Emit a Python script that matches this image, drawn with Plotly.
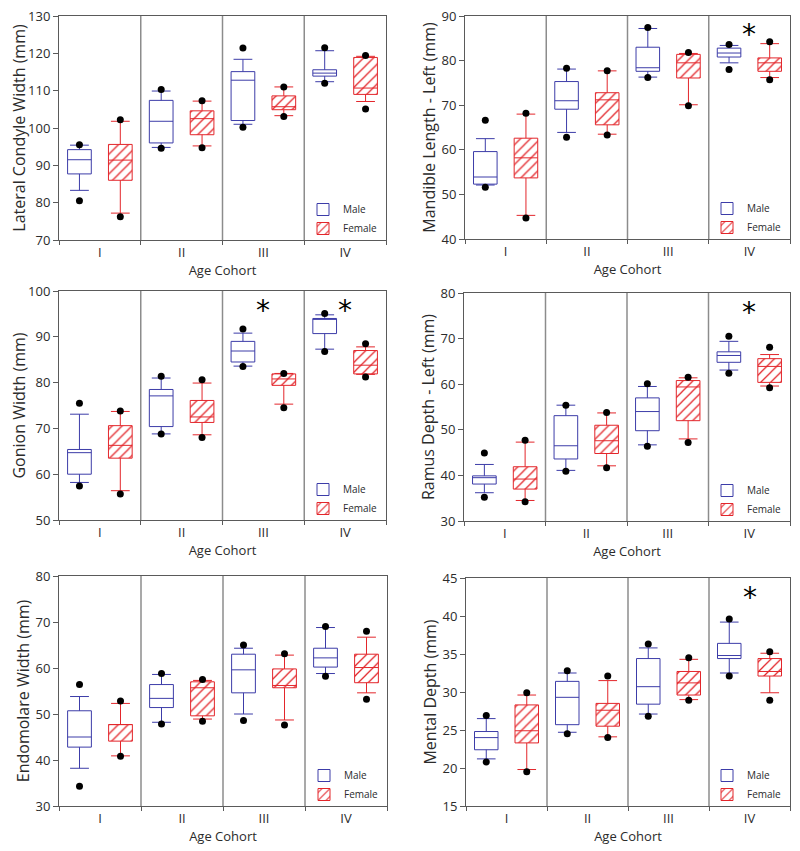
import plotly.graph_objects as go

CATEGORIES = ["I", "II", "III", "IV"]
SEXES = ["Male", "Female"]

# Box stats per cohort: [lower whisker, Q1, median, Q3, upper whisker]; dots: [low point, high point]
LCW_MALE = [[83.3, 87.7, 91.5, 94.2, 95.4], [94.8, 96.0, 101.8, 107.4, 109.9],
            [101.0, 102.0, 112.8, 115.1, 118.4], [112.4, 113.9, 114.7, 115.6, 120.7]]
LCW_MALE_DOTS = [[80.5, 95.5], [94.6, 110.3], [100.2, 121.4], [112.0, 121.5]]
LCW_FEMALE = [[77.2, 86.0, 91.4, 95.6, 101.8], [95.2, 98.2, 102.5, 104.6, 107.2],
              [103.3, 104.9, 105.7, 108.6, 111.0], [107.1, 109.0, 110.7, 118.9, 119.2]]
LCW_FEMALE_DOTS = [[76.2, 102.2], [94.7, 107.3], [103.1, 111.0], [105.1, 119.4]]
LCW_STARS = []

MLL_MALE = [[52.1, 52.3, 53.9, 59.6, 62.5], [63.9, 69.1, 71.0, 75.3, 78.1],
            [76.3, 77.6, 78.4, 83.0, 87.2], [79.5, 80.8, 81.7, 82.8, 83.4]]
MLL_MALE_DOTS = [[51.6, 66.6], [62.8, 78.3], [76.2, 87.4], [78.0, 83.6]]
MLL_FEMALE = [[45.3, 53.7, 58.2, 62.6, 68.0], [63.5, 65.6, 71.2, 72.8, 77.7],
              [70.1, 76.1, 79.5, 81.4, 81.6], [76.2, 77.6, 79.5, 80.6, 83.8]]
MLL_FEMALE_DOTS = [[44.7, 68.2], [63.3, 77.7], [69.9, 81.8], [75.7, 84.2]]
MLL_STARS = ["IV"]

GW_MALE = [[58.2, 60.0, 64.7, 65.4, 73.1], [68.8, 70.4, 77.1, 78.5, 81.0],
           [83.6, 84.5, 86.9, 89.0, 90.8], [87.3, 90.7, 93.8, 94.0, 94.8]]
GW_MALE_DOTS = [[57.4, 75.5], [68.8, 81.4], [83.5, 91.7], [86.8, 95.1]]
GW_FEMALE = [[56.4, 63.5, 66.3, 70.6, 73.7], [68.6, 71.3, 72.5, 76.1, 79.9],
             [75.3, 79.4, 80.8, 81.9, 82.0], [81.8, 81.9, 83.8, 87.0, 87.8]]
GW_FEMALE_DOTS = [[55.7, 73.8], [68.0, 80.6], [74.5, 82.0], [81.2, 88.5]]
GW_STARS = ["III", "IV"]

RDL_MALE = [[36.2, 38.1, 39.5, 39.9, 42.4], [41.1, 43.6, 46.5, 53.1, 55.4],
            [46.7, 49.8, 54.0, 57.0, 59.5], [63.1, 64.8, 66.3, 67.1, 69.4]]
RDL_MALE_DOTS = [[35.2, 44.9], [40.9, 55.4], [46.4, 60.1], [62.4, 70.5]]
RDL_FEMALE = [[34.5, 37.0, 39.2, 41.9, 47.3], [42.1, 44.8, 47.6, 51.0, 53.7],
              [48.0, 52.0, 59.4, 60.8, 61.4], [59.6, 60.4, 63.9, 65.6, 66.5]]
RDL_FEMALE_DOTS = [[34.2, 47.7], [41.7, 53.8], [47.2, 61.5], [59.2, 68.1]]
RDL_STARS = ["IV"]

EW_MALE = [[38.2, 42.8, 45.0, 50.7, 53.8], [48.2, 51.4, 53.4, 56.4, 58.6],
           [50.0, 54.6, 59.6, 63.0, 64.3], [58.8, 60.2, 62.2, 64.3, 68.8]]
EW_MALE_DOTS = [[34.3, 56.4], [47.8, 58.8], [48.6, 65.0], [58.2, 69.0]]
EW_FEMALE = [[40.9, 44.1, 47.7, 47.7, 52.3], [48.9, 49.6, 55.7, 57.0, 57.3],
             [48.7, 55.7, 56.2, 59.8, 62.8], [54.6, 56.8, 60.1, 63.0, 66.7]]
EW_FEMALE_DOTS = [[40.8, 52.8], [48.4, 57.5], [47.6, 63.1], [53.2, 68.0]]
EW_STARS = []

MD_MALE = [[21.2, 22.4, 24.0, 24.8, 26.5], [24.7, 25.7, 29.3, 31.4, 32.5],
           [27.1, 28.4, 30.7, 34.4, 35.8], [32.5, 34.4, 34.8, 36.4, 39.2]]
MD_MALE_DOTS = [[20.8, 26.9], [24.5, 32.8], [26.8, 36.3], [32.1, 39.6]]
MD_FEMALE = [[19.8, 23.3, 24.9, 28.3, 29.6], [24.1, 25.5, 27.6, 28.5, 31.5],
             [29.0, 29.6, 31.2, 32.7, 34.3], [29.9, 32.1, 32.7, 34.4, 35.1]]
MD_FEMALE_DOTS = [[19.5, 29.9], [24.0, 32.1], [28.9, 34.5], [28.9, 35.3]]
MD_STARS = ["IV"]

Y_TITLES = ["Lateral Condyle Width (mm)", "Mandible Length - Left (mm)",
            "Gonion Width (mm)", "Ramus Depth - Left (mm)",
            "Endomolare Width (mm)", "Mental Depth (mm)"]
Y_RANGES = [[70, 130], [40, 90], [50, 100], [30, 80], [30, 80], [15, 45]]
Y_DTICKS = [10, 10, 10, 10, 10, 5]
X_TITLE = "Age Cohort"

PANELS = [
    (LCW_MALE, LCW_MALE_DOTS, LCW_FEMALE, LCW_FEMALE_DOTS, LCW_STARS),
    (MLL_MALE, MLL_MALE_DOTS, MLL_FEMALE, MLL_FEMALE_DOTS, MLL_STARS),
    (GW_MALE, GW_MALE_DOTS, GW_FEMALE, GW_FEMALE_DOTS, GW_STARS),
    (RDL_MALE, RDL_MALE_DOTS, RDL_FEMALE, RDL_FEMALE_DOTS, RDL_STARS),
    (EW_MALE, EW_MALE_DOTS, EW_FEMALE, EW_FEMALE_DOTS, EW_STARS),
    (MD_MALE, MD_MALE_DOTS, MD_FEMALE, MD_FEMALE_DOTS, MD_STARS),
]

# ---- styling / layout ----
PAGE_OFF = 8            # default page margin of the html body
W, H = 800 - PAGE_OFF, 851 - PAGE_OFF
BLUE = "#3c3ca8"
RED = "#e3262b"
FRAME = "#5a5a5a"
SEP = "#8c8c8c"
TXT = "#2b2b2b"
FONT = "Open Sans"
OFF = 0.25      # offset of each sex from category centre
BOXW = 0.29     # box width
CAPW = 0.23     # whisker cap width

# pixel boxes of plot areas in the window: (x0, x1, y0, y1) with y measured from top
PIX = [(59, 386, 16, 240), (465, 790, 16, 239),
       (59, 386, 291, 520), (464, 790, 293, 521),
       (59, 387, 576, 806), (466, 790, 578, 806)]

fig = go.Figure()
pos = [i + 1 for i in range(len(CATEGORIES))]

def seg_lines(xs, half, ys):
    X, Y = [], []
    for x, y in zip(xs, ys):
        X += [x - half, x + half, None]
        Y += [y, y, None]
    return X, Y

def px_x(p):
    return (p - PAGE_OFF) / W

def px_y(p):
    return 1 - (p - PAGE_OFF) / H

for k, (m, md, f, fd, stars) in enumerate(PANELS):
    sfx = "" if k == 0 else str(k + 1)
    xa, ya = "x" + sfx, "y" + sfx
    leg = "legend" + sfx
    for sex, stats, dots, col, sign in [("Male", m, md, BLUE, -1), ("Female", f, fd, RED, 1)]:
        xs = [p + sign * OFF for p in pos]
        lo = [s[0] for s in stats]
        q1 = [s[1] for s in stats]
        med = [s[2] for s in stats]
        q3 = [s[3] for s in stats]
        hi = [s[4] for s in stats]
        if sex == "Male":
            marker = dict(color="white", line=dict(color=col, width=1))
        else:
            marker = dict(color="white", line=dict(color=col, width=1),
                          pattern=dict(shape="/", fgcolor=col, bgcolor="white",
                                       size=7, solidity=0.18, fillmode="replace"))
        fig.add_trace(go.Bar(x=xs, y=[b - a for a, b in zip(q1, q3)], base=q1,
                             width=BOXW, marker=marker, name=sex, xaxis=xa, yaxis=ya,
                             legend=leg, showlegend=True, hoverinfo="skip"))
        X, Y = seg_lines(xs, BOXW / 2, med)
        fig.add_trace(go.Scatter(x=X, y=Y, mode="lines", line=dict(color=col, width=1),
                                 xaxis=xa, yaxis=ya, showlegend=False, hoverinfo="skip"))
        WX, WY = [], []
        for x, a, b, c, d in zip(xs, lo, q1, q3, hi):
            WX += [x, x, None, x, x, None]
            WY += [a, b, None, c, d, None]
        cx1, cy1 = seg_lines(xs, CAPW / 2, lo)
        cx2, cy2 = seg_lines(xs, CAPW / 2, hi)
        fig.add_trace(go.Scatter(x=WX + cx1 + cx2, y=WY + cy1 + cy2, mode="lines",
                                 line=dict(color=col, width=1), xaxis=xa, yaxis=ya,
                                 showlegend=False, hoverinfo="skip"))
        DX, DY = [], []
        for x, dd in zip(xs, dots):
            for v in dd:
                DX.append(x)
                DY.append(v)
        fig.add_trace(go.Scatter(x=DX, y=DY, mode="markers",
                                 marker=dict(color="black", size=7),
                                 xaxis=xa, yaxis=ya, showlegend=False, hoverinfo="skip"))

    x0, x1, y0, y1 = PIX[k]
    dom_x = [px_x(x0), px_x(x1)]
    dom_y = [px_y(y1), px_y(y0)]
    xkey = "xaxis" + sfx
    ykey = "yaxis" + sfx
    fig.update_layout(**{
        xkey: dict(domain=dom_x, anchor=ya, range=[0.5, len(CATEGORIES) + 0.5],
                   tickvals=pos, ticktext=CATEGORIES, ticks="",
                   showline=True, linecolor=FRAME, linewidth=1, mirror=True,
                   showgrid=False, zeroline=False, automargin=False,
                   ticklabeloverflow="allow",
                   minor=dict(tick0=0.5, dtick=1, ticks="outside", ticklen=4,
                              tickcolor=FRAME, showgrid=False),
                   tickfont=dict(family=FONT, size=13, color=TXT),
                   title=dict(text=X_TITLE, font=dict(family=FONT, size=13, color=TXT),
                              standoff=6)),
        ykey: dict(domain=dom_y, anchor=xa, range=Y_RANGES[k], dtick=Y_DTICKS[k],
                   ticks="outside", ticklen=5, tickcolor=FRAME,
                   showline=True, linecolor=FRAME, linewidth=1, mirror=True,
                   showgrid=False, zeroline=False, automargin=False,
                   ticklabeloverflow="allow",
                   tickfont=dict(family=FONT, size=13, color=TXT),
                   title=dict(text=Y_TITLES[k], font=dict(family=FONT, size=16, color=TXT),
                              standoff=1)),
        leg: dict(x=px_x(x1 - 3), y=px_y(y1 + 3), xanchor="right", yanchor="bottom",
                  bgcolor="rgba(0,0,0,0)", font=dict(family=FONT, size=10, color=TXT),
                  tracegroupgap=0, itemwidth=30),
    })
    for sp in [1.5, 2.5, 3.5]:
        fig.add_shape(type="line", x0=sp, x1=sp, y0=0, y1=1, xref=xa, yref=ya + " domain",
                      line=dict(color=SEP, width=1.5))
    for s in stars:
        fig.add_annotation(x=pos[CATEGORIES.index(s)], y=0.935, xref=xa, yref=ya + " domain",
                           text="*", showarrow=False, yshift=14,
                           font=dict(family="DejaVu Sans", size=28, color="black"))

fig.update_layout(width=W, height=H, margin=dict(l=0, r=0, t=0, b=0),
                  plot_bgcolor="white", paper_bgcolor="white",
                  barmode="overlay", font=dict(family=FONT, color=TXT))
fig.write_html("out.html")
